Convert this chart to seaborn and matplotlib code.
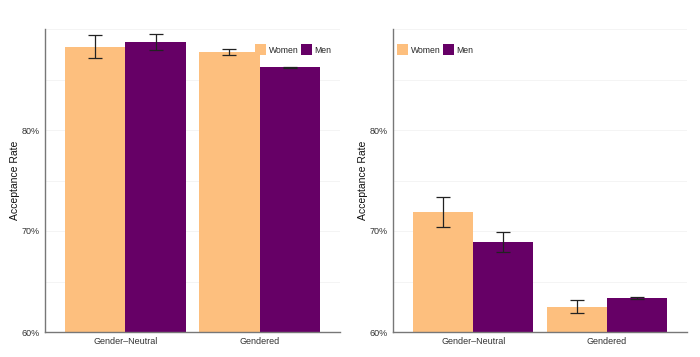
import pandas as pd
import matplotlib
matplotlib.use("Agg")
import matplotlib.pyplot as plt
import seaborn as sns

# data (acceptance rate, %)
conditions = ["Gender\u2013Neutral", "Gendered"]
genders = ["Women", "Men"]

left_women = [88.25, 87.7]
left_men = [88.7, 86.2]
left_women_err = [1.15, 0.3]
left_men_err = [0.8, 0.05]

right_women = [71.85, 62.5]
right_men = [68.95, 63.35]
right_women_err = [1.5, 0.65]
right_men_err = [1.0, 0.12]

colors = {"Women": "#FDBF7E", "Men": "#660066"}

sns.set_style("white")
plt.rcParams["font.family"] = ["Liberation Sans", "DejaVu Sans"]


def make_df(women, men, women_err, men_err):
    rows = []
    for i, c in enumerate(conditions):
        rows.append({"cond": c, "gender": "Women", "rate": women[i], "err": women_err[i]})
        rows.append({"cond": c, "gender": "Men", "rate": men[i], "err": men_err[i]})
    return pd.DataFrame(rows)


fig = plt.figure(figsize=(7, 3.57), dpi=100)
ax1 = fig.add_axes([45 / 700, 25 / 357, 295 / 700, 303 / 357])
ax2 = fig.add_axes([393 / 700, 25 / 357, 294 / 700, 303 / 357])

panels = [
    (ax1, make_df(left_women, left_men, left_women_err, left_men_err), (0.97, 0.95), "upper right"),
    (ax2, make_df(right_women, right_men, right_women_err, right_men_err), (0.015, 0.95), "upper left"),
]

for ax, df, anchor, loc in panels:
    sns.barplot(data=df, x="cond", y="rate", hue="gender", hue_order=genders,
                order=conditions, palette=colors, errorbar=None, width=0.9,
                saturation=1, linewidth=0, ax=ax, zorder=2)
    # error bars at the bar centres
    for bars, g in zip(ax.containers, genders):
        sub = df[df.gender == g].set_index("cond").loc[conditions]
        xs = [b.get_x() + b.get_width() / 2 for b in bars]
        ax.errorbar(xs, sub["rate"], yerr=sub["err"], fmt="none", ecolor="#222222",
                    elinewidth=0.9, capsize=5, capthick=0.9, zorder=3)
    ax.set_ylim(60, 90)
    ax.set_xlim(-0.6, 1.6)
    ax.set_yticks([60, 70, 80])
    ax.set_yticklabels(["60%", "70%", "80%"])
    ax.set_yticks([65, 75, 85, 90], minor=True)
    ax.grid(axis="y", which="both", color="#f3f3f3", linewidth=0.6, zorder=0)
    ax.set_axisbelow(True)
    ax.set_xlabel("")
    ax.set_ylabel("Acceptance Rate", fontsize=7.5, color="#111111", labelpad=1)
    ax.tick_params(axis="both", labelsize=6.5, length=2, width=0.6, color="#888888",
                   labelcolor="#333333", pad=1.5)
    ax.tick_params(axis="y", which="minor", length=0)
    for s in ["top", "right"]:
        ax.spines[s].set_visible(False)
    for s in ["left", "bottom"]:
        ax.spines[s].set_color("#777777")
        ax.spines[s].set_linewidth(1.0)
    leg = ax.legend(loc=loc, bbox_to_anchor=anchor, ncol=2, frameon=False,
                    fontsize=6.2, handlelength=1.25, handleheight=1.6,
                    handletextpad=0.3, columnspacing=0.3, borderaxespad=0.0,
                    borderpad=0.0)
    for h in leg.legend_handles:
        h.set_edgecolor("none")

fig.savefig("out.png", dpi=100)
